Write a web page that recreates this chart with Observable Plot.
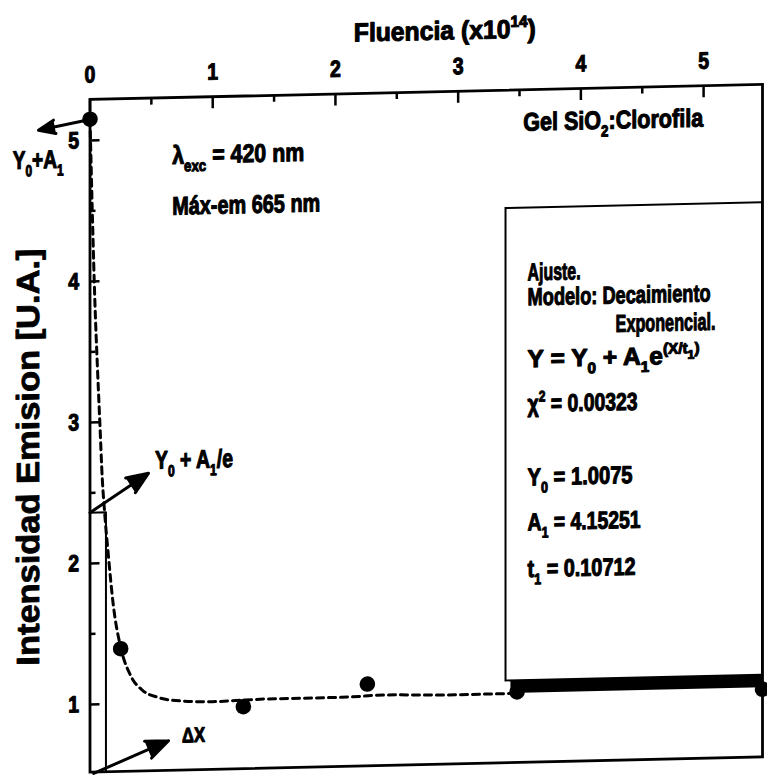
<!DOCTYPE html>
<html>
<head>
<meta charset="utf-8">
<script src="https://cdn.jsdelivr.net/npm/d3@7"></script>
<script src="https://cdn.jsdelivr.net/npm/@observablehq/plot@0.6"></script>
<style>
  html, body { margin: 0; padding: 0; background: #fff; overflow: hidden; }
  #chart svg { display: block; }
</style>
</head>
<body>
<div id="chart"></div>
<script>
// ---- data ----
const xTickLabels = [0, 1, 2, 3, 4, 5];
const xMinorTicks = [0.5, 1.5, 2.5, 3.5, 4.5];
const yTickLabels = [1, 2, 3, 4, 5];
const yMinorTicks = [1.5, 2.5, 3.5, 4.5];

const pointX = [0, 0.25, 1.25, 2.26, 3.48, 5.48];
const pointY = [5.15, 1.39, 0.96, 1.10, 1.02, 1.00];

const curveX = [0, 0.02, 0.04, 0.06, 0.08, 0.10, 0.12, 0.15, 0.19, 0.25, 0.33, 0.43, 0.55, 0.74, 1.0, 1.45, 2.05, 2.4, 2.9, 3.43];
const curveY = [5.15, 4.45, 3.85, 3.4, 3.0, 2.6, 2.35, 2.05, 1.7, 1.4, 1.2, 1.09, 1.04, 1.01, 1.0, 1.01, 1.01, 1.02, 1.01, 1.01];

const markerX = [0, 0.13, 0.13];
const markerY = [2.36, 2.36, 0.52];

const boxX = [3.39, 5.48];
const boxY = [1.10, 4.45];
const bandX = [3.43, 5.48];
const bandY = [1.01, 1.10];

const arrowX1 = [0.01, 0, 0.03];
const arrowY1 = [5.15, 2.36, 0.51];
const arrowX2 = [-0.42, 0.477, 0.64];
const arrowY2 = [5.08, 2.63, 0.73];

const noteText = ["Y_{0}+A_{1}", "λ_{exc} = 420 nm", "Máx-em 665 nm", "Gel SiO_{2}:Clorofila", "Y_{0} + A_{1}/e"];
const noteX = [-0.63, 0.67, 0.67, 3.53, 0.53];
const noteY = [4.81, 4.82, 4.46, 5.0, 2.66];

const fitText = ["Ajuste.", "Modelo: Decaimiento", "Exponencial.", "Y = Y_{0} + A_{1}e^{(X/t}^_{1}^{)}", "χ^{2} = 0.00323", "Y_{0} = 1.0075", "A_{1} = 4.15251", "t_{1} = 0.10712"];
const fitX = [3.566, 3.566, 4.283, 3.566, 3.566, 3.566, 3.566, 3.566];
const fitY = [3.937, 3.76, 3.557, 3.322, 3.003, 2.483, 2.164, 1.833];

const titleText = "Fluencia (x10^{14})";
const yLabelText = "Intensidad Emision [U.A.]";
const deltaText = "ΔX";

// ---- layout (pixels) ----
const W = 767, H = 775;
const mL = 89.5, mR = 5, mT = 99, mB = 3.4;
const plotW = W - mL - mR, plotH = H - mT - mB;
const FONT = "'Liberation Sans', Arial, sans-serif";
// rendered widths of the texts in the scan (condensed type)
const textWidth = {
  "Y_{0}+A_{1}": 51, "λ_{exc} = 420 nm": 132, "Máx-em 665 nm": 148, "Gel SiO_{2}:Clorofila": 180,
  "Y_{0} + A_{1}/e": 78, "ΔX": 23, "Ajuste.": 53, "Modelo: Decaimiento": 183, "Exponencial.": 100,
  "Y = Y_{0} + A_{1}e^{(X/t}^_{1}^{)}": 172, "χ^{2} = 0.00323": 110, "Y_{0} = 1.0075": 105,
  "A_{1} = 4.15251": 113, "t_{1} = 0.10712": 108, "Fluencia (x10^{14})": 182, "Intensidad Emision [U.A.]": 417
};
const tickSqueeze = 0.83;
const ink = {fill: "black", stroke: "black", strokeWidth: 1.1, paintOrder: "stroke"};

const idx = a => a.map((_, i) => i);

const chart = Plot.plot({
  width: W, height: H,
  marginLeft: mL, marginRight: mR, marginTop: mT, marginBottom: mB,
  x: {domain: [0, 5.48], axis: null},
  y: {domain: [0.52, 5.29], axis: null},
  style: {fontFamily: FONT, fontWeight: "bold", background: "white", overflow: "visible", color: "black"},
  marks: [
    Plot.line(idx(curveX), {x: i => curveX[i], y: i => curveY[i], stroke: "black", strokeWidth: 3, strokeDasharray: "7,5", curve: "monotone-x"}),
    Plot.line(idx(markerX), {x: i => markerX[i], y: i => markerY[i], stroke: "black", strokeWidth: 2}),
    Plot.rect([0], {x1: boxX[0], x2: boxX[1], y1: boxY[0], y2: boxY[1], fill: "white", stroke: "black", strokeWidth: 2}),
    Plot.rect([0], {x1: bandX[0], x2: bandX[1], y1: bandY[0], y2: bandY[1], fill: "black"}),
    Plot.dot(idx(pointX), {x: i => pointX[i], y: i => pointY[i], r: 7.8, fill: "black", stroke: "none"}),
    Plot.arrow(idx(arrowX1), {x1: i => arrowX1[i], y1: i => arrowY1[i], x2: i => arrowX2[i], y2: i => arrowY2[i], stroke: "black", fill: "black", strokeWidth: 3, headLength: 12, headAngle: 45}),
    Plot.frame({stroke: "black", strokeWidth: 2.8}),
    Plot.tickX(xTickLabels, {x: d => d, insetBottom: plotH - 12, strokeWidth: 2.5}),
    Plot.tickX(xMinorTicks, {x: d => d, insetBottom: plotH - 7, strokeWidth: 2.5}),
    Plot.tickY(yTickLabels, {y: d => d, insetRight: plotW - 10, strokeWidth: 2.5}),
    Plot.tickY(yMinorTicks, {y: d => d, insetRight: plotW - 6, strokeWidth: 2.5}),
    Plot.text(xTickLabels, {x: d => d, frameAnchor: "top", dy: -17, lineAnchor: "bottom", text: d => String(d), fontSize: 23.5, ...ink}),
    Plot.text(yTickLabels, {y: d => d, frameAnchor: "left", dx: -11, textAnchor: "end", lineAnchor: "middle", text: d => String(d), fontSize: 23.5, ...ink}),
    Plot.text([titleText], {frameAnchor: "top", dx: 18.5, dy: -52, textAnchor: "middle", lineAnchor: "bottom", fontSize: 26, ...ink}),
    Plot.text([yLabelText], {frameAnchor: "left", dx: -61, dy: 20, rotate: -90, textAnchor: "middle", lineAnchor: "middle", fontSize: 32, ...ink, strokeWidth: 0.8}),
    Plot.text(idx(noteText), {x: i => noteX[i], y: i => noteY[i], text: i => noteText[i], textAnchor: "start", lineAnchor: "bottom", fontSize: 25.5, ...ink}),
    Plot.text([deltaText], {x: 0.75, y: 0.716, textAnchor: "start", lineAnchor: "bottom", fontSize: 21, ...ink}),
    Plot.text(idx(fitText), {x: i => fitX[i], y: i => fitY[i], text: i => fitText[i], textAnchor: "start", lineAnchor: "bottom", fontSize: 24.5, ...ink})
  ]
});

document.getElementById("chart").appendChild(chart);

// rich text: _{sub}, ^{sup}, ^_{sub within sup}; then condense to the scan's widths
const SHIFT = {"_": [0.3, 0.62], "^": [-0.42, 0.62], "^_": [-0.2, 0.5]};
chart.querySelectorAll("text").forEach(t => {
  const orig = t.textContent;
  if (/[_^]\{/.test(orig)) {
    const fs = parseFloat(getComputedStyle(t).fontSize) || 20;
    const parts = orig.split(/(\^_\{[^}]*\}|_\{[^}]*\}|\^\{[^}]*\})/).filter(p => p !== "");
    while (t.firstChild) t.removeChild(t.firstChild);
    let cur = 0;
    for (const p of parts) {
      const m = p.match(/^(\^_|_|\^)\{([^}]*)\}$/);
      let shift = 0, scale = 1, txt = p;
      if (m) { [shift, scale] = SHIFT[m[1]]; txt = m[2]; }
      const ts = document.createElementNS("http://www.w3.org/2000/svg", "tspan");
      const target = shift * fs;
      if (target - cur !== 0) ts.setAttribute("dy", (target - cur).toFixed(2));
      cur = target;
      if (scale !== 1) ts.setAttribute("font-size", (scale * fs).toFixed(2));
      ts.textContent = txt;
      t.appendChild(ts);
    }
  }
  let sx = tickSqueeze;
  if (textWidth[orig] !== undefined) {
    const len = t.getComputedTextLength();
    if (len > 0) sx = textWidth[orig] / len;
  }
  const tr = t.getAttribute("transform") || "";
  t.setAttribute("transform", tr + ` scale(${sx.toFixed(4)},1)`);
});

// the scanned original is slightly sheared
chart.style.transformOrigin = mL + "px 0px";
chart.style.transform = "skewY(-1.29deg)";
</script>
</body>
</html>
